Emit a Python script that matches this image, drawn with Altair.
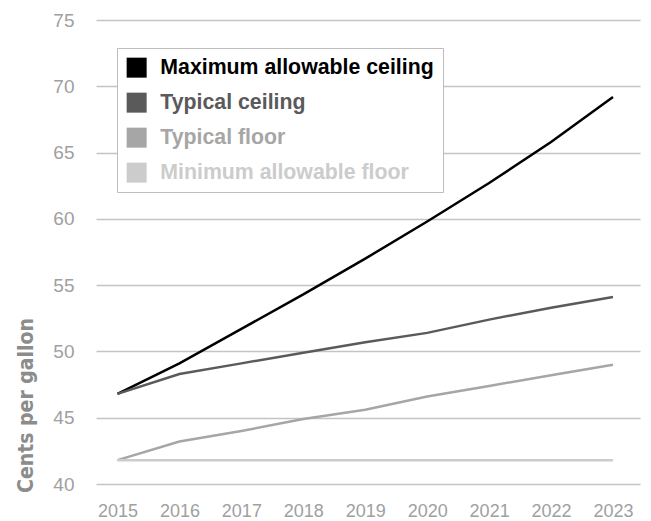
import altair as alt
import pandas as pd

years = [2015, 2016, 2017, 2018, 2019, 2020, 2021, 2022, 2023]
max_ceiling = [46.8, 49.1, 51.7, 54.3, 57.0, 59.8, 62.7, 65.8, 69.2]
typical_ceiling = [46.8, 48.3, 49.1, 49.9, 50.7, 51.4, 52.4, 53.3, 54.1]
typical_floor = [41.8, 43.2, 44.0, 44.9, 45.6, 46.6, 47.4, 48.2, 49.0]
min_floor = [41.8, 41.8, 41.8, 41.8, 41.8, 41.8, 41.8, 41.8, 41.8]

series_names = ["Maximum allowable ceiling", "Typical ceiling", "Typical floor", "Minimum allowable floor"]
series_colors = ["#000000", "#5a5a5a", "#a6a6a6", "#cccccc"]
y_ticks = [40, 45, 50, 55, 60, 65, 70, 75]

rows = []
for name, vals in zip(series_names, [max_ceiling, typical_ceiling, typical_floor, min_floor]):
    for yr, v in zip(years, vals):
        rows.append({"year": yr, "value": v, "series": name, "order": series_names.index(name)})
df = pd.DataFrame(rows)

chart = alt.Chart(df).mark_line(strokeWidth=2.5).encode(
    x=alt.X("year:Q",
            scale=alt.Scale(domain=[2014.653, 2023.436], nice=False, zero=False),
            axis=alt.Axis(values=years, format="d", title=None, grid=False, domain=False,
                          ticks=False, labelPadding=18, labelFontSize=18, labelColor="#a0a0a0",
                          labelFont="Liberation Sans")),
    y=alt.Y("value:Q",
            scale=alt.Scale(domain=[40, 75], nice=False, zero=False),
            axis=alt.Axis(values=y_ticks, title="Cents per gallon", grid=True, gridColor="#c4c4c4",
                          gridWidth=1.5, domain=False, ticks=False, labelPadding=22,
                          labelFontSize=19, labelColor="#a0a0a0", labelFont="Liberation Sans",
                          titleFont="DejaVu Sans Condensed", titleFontSize=21, titleFontWeight="bold",
                          titleColor="#8c8c8c", titleAngle=-90, titleX=-70, titleY=385,
                          titleAlign="center", titleBaseline="middle")),
    color=alt.Color("series:N",
                    scale=alt.Scale(domain=series_names, range=series_colors),
                    sort=series_names,
                    legend=alt.Legend(
                        title=None, orient="none", legendX=21, legendY=28,
                        symbolType="square", symbolSize=400, symbolStrokeWidth=0,
                        symbolOpacity=1,
                        symbolFillColor={"expr": "scale('color', datum.value)"},
                        labelFont="Liberation Sans", labelFontSize=21.3, labelFontWeight="bold",
                        labelLimit=400, labelOffset=13, rowPadding=13,
                        padding=9, strokeColor="#bdbdbd", fillColor="white",
                        labelColor={"expr": "scale('color', datum.value)"},
                    )),
    detail="series:N",
    order="order:Q",
).properties(
    width=544,
    height=464,
    autosize=alt.AutoSizeParams(type="none"),
    padding={"left": 96, "top": 20, "right": 11, "bottom": 37},
).configure_view(stroke=None)

chart.save("out.html", embed_options={"renderer": "svg", "actions": False})
